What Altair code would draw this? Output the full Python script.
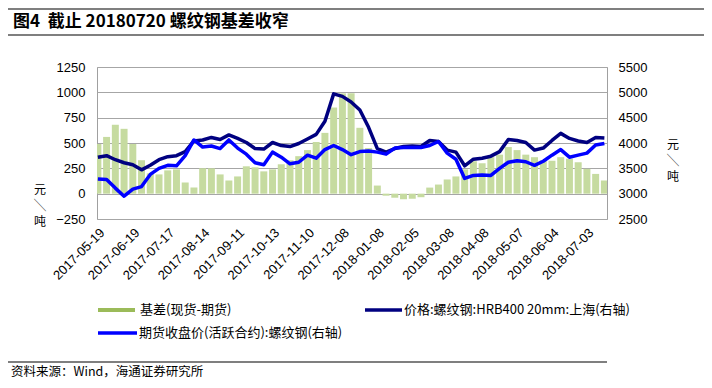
import altair as alt
import pandas as pd

day_index = list(range(0, 291, 5))

basis = [490, 560, 680, 640, 490, 330, 200, 190, 230, 240,
         110, 60, 250, 250, 190, 130, 170, 270, 260, 220,
         240, 290, 330, 370, 430, 510, 600, 850, 990, 990,
         650, 450, 80, -20, -40, -55, -50, -35, 60, 90,
         140, 170, 240, 320, 300, 360, 385, 460, 430, 385,
         360, 330, 325, 360, 345, 310, 245, 195, 130]

spot = [3720, 3750, 3670, 3610, 3570, 3470, 3560, 3670, 3730, 3750,
        3830, 4040, 4060, 4110, 4070, 4160, 4090, 4010, 3890, 3880,
        4010, 3950, 3930, 3990, 4080, 4170, 4430, 4970, 4920, 4810,
        4650, 4310, 3890, 3820, 3890, 3930, 3940, 3930, 4050, 4030,
        3860, 3820, 3550, 3680, 3700, 3740, 3830, 4070, 4050, 4010,
        3860, 3900, 4050, 4190, 4090, 4040, 4010, 4110, 4100]

futures = [3290, 3280, 3110, 2950, 3090, 3140, 3380, 3500, 3560, 3550,
           3750, 4060, 3920, 3940, 3890, 4060, 3900, 3780, 3610, 3570,
           3820, 3720, 3590, 3620, 3760, 3700, 3870, 3950, 3870, 3770,
           3830, 3840, 3820, 3780, 3900, 3910, 3910, 3910, 3950, 4030,
           3800, 3680, 3300, 3360, 3370, 3360, 3500, 3620, 3650, 3630,
           3560, 3640, 3760, 3870, 3720, 3760, 3800, 3960, 3990]

tick_dates = ['2017-05-19', '2017-06-19', '2017-07-17', '2017-08-14', '2017-09-11',
              '2017-10-13', '2017-11-10', '2017-12-08', '2018-01-08', '2018-02-05',
              '2018-03-08', '2018-04-08', '2018-05-07', '2018-06-04', '2018-07-03']
tick_index = [20 * k for k in range(len(tick_dates))]

left_ticks = [-250, 0, 250, 500, 750, 1000, 1250]
right_ticks = [2500, 3000, 3500, 4000, 4500, 5000, 5500]

title_text = '图4\u00a0\u00a0截止 20180720 螺纹钢基差收窄'
legend_basis = '基差(现货-期货)'
legend_spot = '价格:螺纹钢:HRB400 20mm:上海(右轴)'
legend_fut = '期货收盘价(活跃合约):螺纹钢(右轴)'
source_text = '资料来源：Wind，海通证券研究所'

df = pd.DataFrame({'idx': day_index, 'basis': basis, 'spot': spot, 'futures': futures})

CJK = 'Noto Sans CJK SC'
LAT = 'Liberation Sans'
N_DAYS = 292

label_expr = '[' + ','.join("'%s'" % d for d in tick_dates) + '][round(datum.value/20)]'

x_scale = alt.Scale(domain=[-0.5, N_DAYS - 0.5], nice=False, zero=False)
x_axis = alt.Axis(values=tick_index, labelExpr=label_expr, labelAngle=-45,
                  labelAlign='right', labelBaseline='top', labelPadding=7,
                  labelFont=LAT, labelFontSize=13, labelColor='#000000',
                  ticks=False, domain=False, grid=False, title=None,
                  labelOverlap=False, labelBound=False)

base = alt.Chart(df)

bars = base.transform_calculate(
    x0='datum.idx - 2.0', x1='datum.idx + 2.0'
).mark_bar(color='#c6dba0', clip=True).encode(
    x=alt.X('x0:Q', scale=x_scale, axis=x_axis),
    x2='x1:Q',
    y=alt.Y('basis:Q', scale=alt.Scale(domain=[-250, 1250], nice=False, zero=False),
            axis=alt.Axis(values=left_ticks, format='d', grid=True, gridColor='#a6a6a6',
                          gridWidth=1, ticks=False, domain=False, labelPadding=12,
                          labelFont=LAT, labelFontSize=13, labelColor='#000000',
                          title=None)),
    y2=alt.datum(0),
)

right_axis = alt.Axis(orient='right', values=right_ticks, format='d', grid=False,
                      ticks=False, domain=False, labelPadding=11, labelFont=LAT,
                      labelFontSize=13, labelColor='#000000', title=None)
right_scale = alt.Scale(domain=[2500, 5500], nice=False, zero=False)

spot_line = base.mark_line(color='#000080', strokeWidth=3.5, strokeJoin='round').encode(
    x=alt.X('idx:Q', scale=x_scale, axis=x_axis),
    y=alt.Y('spot:Q', scale=right_scale, axis=right_axis),
)
fut_line = base.mark_line(color='#0000ff', strokeWidth=3.5, strokeJoin='round').encode(
    x=alt.X('idx:Q', scale=x_scale, axis=x_axis),
    y=alt.Y('futures:Q', scale=right_scale, axis=right_axis),
)
lines = alt.layer(spot_line, fut_line)

one = pd.DataFrame({'k': [0]})


def txt(text, x, y, size, weight='normal', align='left', font=CJK, line_height=None):
    kw = dict(text=text, align=align, baseline='middle', fontSize=size,
              fontWeight=weight, font=font, color='#000000')
    if line_height is not None:
        kw['lineHeight'] = line_height
    return alt.Chart(one).mark_text(**kw).encode(x=alt.value(x), y=alt.value(y))


def hrule(x1, x2, y, color, width):
    return alt.Chart(one).mark_rule(color=color, strokeWidth=width).encode(
        x=alt.value(x1), x2=alt.value(x2), y=alt.value(y))


decor = [
    hrule(-89, 607, -58, '#000000', 1.2),
    txt(title_text, -84, -45, 17, weight='bold'),
    hrule(-89, 607, -32, '#000000', 1.2),
    txt(['元', '╲', '吨'], -57, 123, 12, align='center', line_height=16),
    txt(['元', '╲', '吨'], 576, 78, 12, align='center', line_height=16),
    hrule(1, 38, 243, '#9bbb59', 4),
    txt(legend_basis, 43, 243, 13),
    hrule(268, 305, 243, '#000080', 3.5),
    txt(legend_spot, 307, 243, 13),
    hrule(1, 40, 266, '#0000ff', 3.5),
    txt(legend_fut, 42, 266, 13),
    hrule(-89, 510, 295, '#000000', 1.2),
    txt(source_text, -86, 305, 12.5),
]

chart = alt.layer(bars, lines, *decor).resolve_scale(y='independent').properties(
    width=510, height=152,
    autosize=alt.AutoSizeParams(type='none'),
    padding={'left': 89, 'top': 59, 'right': 97, 'bottom': 161},
    background='#ffffff',
).configure_view(stroke='#a0a0a0', strokeWidth=1)

chart.save('out.html', embed_options={'renderer': 'svg', 'actions': False})
